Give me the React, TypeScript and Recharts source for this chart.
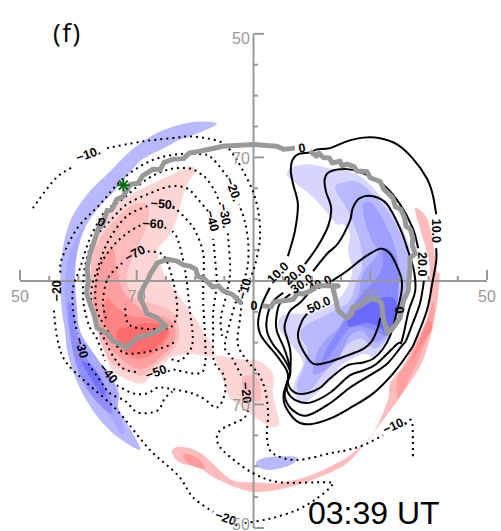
import React from 'react';
import { ScatterChart, Scatter, XAxis, YAxis } from 'recharts';

type P = number[];

// axis ticks, degrees from the pole (colatitude), labelled as latitude
const axisTicks = [-40, -35, -30, -25, -20, -15, -10, -5, 0, 5, 10, 15, 20, 25, 30, 35, 40];
const tickLabels: Record<string, string> = { '-40': '50', '-20': '70', '20': '70', '40': '50' };

// filled potential levels
const blueLeft1: P[] = [[-6.3,25.5],[-9.2,25.8],[-12.6,25.3],[-16,24.2],[-18.9,22.6],[-21.7,20.5],[-24.6,17.7],[-28.5,14],[-31.4,9.7],[-32.8,4.4],[-33.1,0],[-32.8,-4.8],[-32.3,-8.1],[-31.8,-11.8],[-30.1,-16.6],[-27.5,-21],[-24.6,-24.2],[-21.7,-26.3],[-19.4,-27.3],[-20.3,-25.3],[-22,-22.6],[-23.2,-20.5],[-23,-18.2],[-24.1,-16.1],[-26.3,-14],[-28.9,-10.8],[-30.1,-8.1],[-30.2,-4.8],[-30.6,0],[-30.2,4.4],[-28.9,8.5],[-26.6,11.8],[-23.4,15],[-19.4,19.4],[-15.5,21.4],[-12.6,22.9],[-10.9,23.4],[-8,24.5]];
const blueLeft2: P[] = [[-29,8.9],[-31.4,4.8],[-32.3,0],[-32.1,-4.8],[-31.4,-8.9],[-30.6,-12.1],[-28.9,-16.1],[-26.3,-19.4],[-24.1,-22.6],[-22.9,-24.5],[-22,-24.2],[-23.2,-21],[-23.5,-17.7],[-24.6,-15.3],[-27.1,-12.1],[-29.7,-8.1],[-30.4,-3.2],[-30.6,1.6],[-30.1,5.6]];
const blueLeft3: P[] = [[-31.8,-3.7],[-31.4,-8.9],[-30.2,-14],[-28,-18.2],[-24.6,-21.5],[-24.4,-19.4],[-26.3,-15.3],[-28.5,-12.6],[-30.2,-8.9],[-30.9,-4.8]];
const blueLeft4: P[] = [[-29.4,-13.2],[-28,-15.6],[-25.9,-18.5],[-25.4,-18.1],[-26.3,-15.6],[-28.3,-13.4]];
const blueRight1: P[] = [[5.7,17.3],[6.8,18.5],[9.7,18.9],[13.1,18.2],[16.5,17.7],[19.4,16.1],[22.9,12.4],[25.1,9.2],[26.8,5.3],[26.8,2.7],[25.9,-2.1],[24.6,-6.9],[22.5,-10],[20.8,-12.4],[19.1,-11.8],[16.9,-12.6],[14.8,-13.9],[13.1,-16.1],[10.5,-18.5],[8.5,-19.7],[6.8,-18.1],[7.3,-15.8],[8.5,-13.4],[7.3,-11.3],[5.2,-8.9],[4.2,-6.8],[5.7,-5.3],[9.7,-5.3],[13.6,-3.7],[15.7,-1.6],[16.9,1.6],[16.2,4.8],[16.5,7.6],[15.3,9.2],[14.3,9.2],[11.9,11.8],[9.7,14],[6.8,16.1]];
const blueRight2: P[] = [[14,15],[15.7,16],[17.9,16],[20.5,14],[23.4,10.8],[25.6,6.5],[26.8,2.1],[25.4,-3.2],[23.7,-8.1],[21.7,-10.5],[20.3,-10.8],[18.6,-9.4],[16.5,-10],[14.5,-12.1],[12.2,-14.8],[10,-17.4],[8,-18.1],[7.4,-16.9],[8.3,-14.5],[9.3,-11.3],[8,-8.9],[8.8,-7.3],[11.4,-6],[14.3,-4.5],[16.5,-3.2],[17.7,0],[18.6,2.4],[18.2,6.5],[16.2,11.3]];
const blueRight3: P[] = [[18.8,12.4],[20.5,12.4],[23.4,7.6],[24.7,3.7],[24.7,0],[24.6,-4.8],[23.4,-8.1],[21.7,-9.7],[20.3,-9.7],[18.6,-8.1],[16.5,-8.9],[14.8,-12.1],[12.2,-14.5],[10.2,-15],[10.7,-12.1],[12.2,-9.7],[14.8,-7.3],[16.2,-4.8],[17.9,-2.4],[18.8,1.3],[21.3,4.5],[20.3,6.5],[19.1,9.7]];
const blueRight4: P[] = [[22.2,5.2],[23.7,4.8],[24.9,1.9],[24.7,-3.2],[24.2,-6.9],[22.9,-8.9],[20.8,-8.1],[18.2,-7.3],[16.4,-7.7],[14.8,-9.7],[13.1,-12.1],[11.7,-13.2],[12.8,-10.5],[14.8,-7.7],[16.5,-4.8],[19.1,-1.6],[21.3,0.8],[22.2,2.9]];
const blueRight5: P[] = [[16,-5.8],[16.9,-5.2],[19.1,-4],[21.3,-2.9],[23.7,-2.7],[24.6,-4],[24.1,-6.8],[22.9,-8.5],[21.3,-7.3],[19.1,-6.8],[16.5,-7.4]];
const blueBottom: P[] = [[0.4,-29.5],[1.6,-28.7],[4.5,-28.4],[7.4,-28.5],[6.8,-29.5],[5.1,-30.2],[2.8,-30.6],[1.1,-30.3]];
const redLeft1: P[] = [[-10.9,18.5],[-10,17.7],[-11.7,15],[-13.1,10.2],[-14.8,6.9],[-16.5,4.8],[-15.2,0.8],[-14.3,-0.5],[-10.9,-4.8],[-8.6,-8.1],[-6.6,-12.1],[-10.9,-11.8],[-14.3,-12.4],[-14.8,-12.9],[-17.2,-15],[-18.9,-16.6],[-21.5,-16.1],[-24.1,-14.5],[-25.4,-11.8],[-26.6,-8.1],[-28,-3.7],[-28,0.5],[-27.5,4.8],[-25.8,9.7],[-22.9,12.9],[-18.9,15],[-14.8,16.9]];
const redLeft2: P[] = [[-18.2,12.4],[-21.1,12.1],[-23.4,10.2],[-25.8,7.6],[-27.5,4.4],[-28,0],[-27.7,-3.7],[-26.6,-8.5],[-25.8,-10.8],[-24.1,-13.4],[-20.6,-15],[-18.9,-15.3],[-16.5,-13.4],[-14.3,-11.8],[-12.9,-9.7],[-12.9,-6.8],[-14.3,-4.8],[-17.2,-3.7],[-20.3,-2.7],[-21.7,0],[-21.1,2.9],[-19.9,5.3],[-18.2,9.2]];
const redLeft3: P[] = [[-24.1,5.3],[-26.3,3.2],[-27.1,0],[-27.5,-3.7],[-26.3,-8.1],[-24.6,-10.8],[-22.9,-12.4],[-20.6,-14],[-18.2,-14],[-16,-12.4],[-13.8,-10.2],[-13.4,-7.7],[-14.8,-6],[-18.9,-4.8],[-22.3,-1.6],[-23.4,2.1]];
const redLeft4: P[] = [[-25.1,-2.7],[-25.8,-5.6],[-24.6,-8.9],[-22.5,-11.3],[-20.3,-12.6],[-17.7,-12.1],[-15.5,-10.5],[-14.3,-8.4],[-15.2,-7.3],[-17.7,-6.1],[-21.1,-5.6],[-23.2,-4.5]];
const redLeft5: P[] = [[-23.4,-8.1],[-20.6,-7.3],[-17.2,-6.8],[-14.8,-7.7],[-15.2,-9.4],[-17.7,-11.3],[-20.6,-11.8],[-22.9,-10.2]];
const redCentre1: P[] = [[-6.3,-12.1],[-2.8,-12.6],[0.6,-12.9],[2.5,-14],[3.5,-15.6],[3.3,-18.2],[4,-21],[4.4,-23.1],[3.3,-23.7],[1.1,-22.6],[-1.1,-21],[-4,-18.9],[-5.2,-16.1],[-6.3,-13.4]];
const redCentre2: P[] = [[-1.8,-15.6],[-0.1,-15.3],[1.1,-16.6],[1.1,-19.4],[-0.6,-18.9],[-1.8,-17.3]];
const redBand1: P[] = [[27.7,11.8],[29.7,10.2],[30.7,6.5],[31.4,1.6],[31.9,1.1],[31.6,-2.7],[30.7,-7.6],[29,-12.9],[26.5,-16.9],[23.4,-21],[19.9,-25.3],[16,-29.5],[10.9,-31.9],[5.7,-33.5],[0.6,-34.2],[-2.8,-33.5],[-6.9,-31.8],[-9.2,-30.3],[-12.6,-29.4],[-14,-27.7],[-13.1,-26.9],[-10.9,-27.1],[-8.6,-28.2],[-6.3,-30.2],[-3.5,-32.3],[-0.1,-32.6],[4.5,-32.7],[9.7,-31.5],[15.3,-29],[18.2,-26.9],[20.5,-24.7],[23,-19.4],[23.4,-16.6],[25.4,-14],[27.3,-10.8],[29.7,-6],[30.2,-2.1],[30.2,2.1],[29.7,4.8],[28.5,8.5]];
const redBand2: P[] = [[24.7,-18.9],[24.7,-15.6],[26.8,-12.4],[29.7,-6.5],[30.7,-3.4],[31,-5],[30.2,-8.1],[28.2,-12.9],[25.9,-17.3]];
const redBand3: P[] = [[26.8,-13.4],[28.5,-9.7],[29.9,-6.5],[30.6,-7.7],[28.2,-11.3],[27.1,-13.2]];
const redBottomCore: P[] = [[-12.1,-28.2],[-10.9,-28.1],[-9.2,-29],[-8.3,-30.3],[-9.7,-30.2],[-11.4,-29.4]];

// positive contours, split where a label sits on the line
const c10Top: P[] = [[5.9,4],[7.1,8.1],[7.6,12.4],[6.8,15.6],[6.4,17.7],[6.6,19.4],[7.6,20.5],[9.7,20.8],[10.9,21.3],[13.1,21.5],[16,22.6],[18.8,23.2],[21.7,23.1],[24.6,22.1],[27.3,19.8],[29.7,16.6],[30.7,14],[31.3,10.8]];
const c10Low: P[] = [[31.3,5.3],[31.3,3.2],[30.7,0],[29.7,-4.8],[27.7,-9.7],[26.8,-11.3],[23.9,-15],[20.5,-18.2],[16.5,-20.6],[13.1,-22.3],[9.7,-23.2],[7.4,-22.7],[5.4,-20.2],[5.2,-18.1],[5.9,-16.1],[5.7,-14.5],[4,-12.1],[2.3,-10.2],[1.1,-8.5],[0.8,-6.5],[1.5,-3.7],[2.8,-1.1]];
const c20Top: P[] = [[8.8,2.7],[11,5.6],[12.8,8.9],[13.3,11.8],[12.4,14.5],[12.2,16.5],[13.1,17.7],[16,18.1],[18.8,17.4],[22.2,15.6],[25.1,12.4],[27.3,8.5],[28.2,5.3]];
const c20Low: P[] = [[29.2,0],[28.5,-3.7],[27.1,-7.3],[26.1,-9.7],[25.4,-10.5],[22.9,-13.4],[19.9,-15.3],[16.5,-17.3],[13.1,-19.8],[9.2,-21.8],[6.8,-21],[5.4,-18.9],[5.6,-16.9],[6.3,-14.8],[5.1,-12.4],[3.3,-10.2],[2.3,-8.1],[2.3,-6],[3.2,-3.5],[5.1,-1.9]];
const c30: P[] = [[10.2,1.6],[12.6,4.4],[14.5,6.1],[16.5,9.7],[17,11.8],[18.2,13.4],[20.5,13.7],[22.9,12.4],[25.1,8.5],[26.5,4.8],[27.5,1.6],[27.7,-1.6],[26.6,-4.8],[25.4,-9.7],[24.6,-10.2],[21.1,-13.4],[18.8,-14.5],[16.5,-15.3],[13.1,-18.1],[9.7,-19.7],[7.4,-19.4],[5.9,-18.1],[5.7,-16.6],[6.3,-14.5],[5.4,-11.3],[4,-8.1],[3.9,-6],[4.5,-3.7],[6.3,-2.1]];
const c40: P[] = [[13.4,0],[16,1.6],[18.8,3.7],[21.7,5.2],[23.4,4.4],[24.7,2.1],[25.4,0],[25.3,-2.1],[24.4,-5.6],[23.4,-8.9],[22.1,-11.1],[20.5,-12.6],[18.8,-13.2],[16,-13.7],[13.1,-15.8],[11.4,-17.3],[9.2,-18.2],[7.1,-18.1],[5.9,-16.5],[6.3,-14.5],[6.3,-11.3],[5.4,-8.1],[5.4,-6.9],[6.3,-4.8],[8,-3.5],[9.3,-2.1]];
const c50: P[] = [[21.7,-6],[21.3,-7.6],[20.3,-9.7],[18.8,-11],[16,-12.1],[12.6,-13.2],[10.2,-13.4],[8.5,-11.3],[7.6,-8.9],[8.3,-6.5],[9.2,-5.3]];

// negative contours
const d10a: P[] = [[-37.8,11.8],[-34,16.5],[-30.9,18.5]];
const d10b: P[] = [[-25.1,21.5],[-18.9,22.6],[-13.1,23.2],[-10.9,23.4],[-8,23.1],[-5.2,22.3],[-3.5,20.5],[-2,18.2],[-0.1,14.5],[0.9,10.8],[1.1,6.9],[0.3,2.7],[-0.6,0.3]];
const d10c: P[] = [[-2,-3.5],[-2.3,-6],[-2.7,-10.2],[-1.1,-12.9],[0.8,-15],[2,-17.7],[2.5,-21.5],[2.3,-25.3],[3.3,-27.9],[7.4,-29],[13.1,-27.9],[16,-27.4],[18.8,-26.6],[22.2,-25]];
const d10d: P[] = [[25.9,-23.1],[27.1,-22.6],[27.3,-25.8],[27.3,-28.5]];
const d20a: P[] = [[-4.5,16.9],[-6.9,19.7],[-8.6,20.5],[-13.1,20.5],[-17.7,19.4],[-22.3,16.6],[-26.3,12.4],[-30.2,8.5],[-32.8,3.7],[-33.1,1.3]];
const d20b: P[] = [[-34.2,-4.8],[-33.6,-9.4],[-32.3,-12.9],[-29.4,-15.8],[-24.6,-19.8],[-22.3,-22.1],[-17.7,-27.4],[-12.9,-31.5],[-10.4,-35],[-6.9,-37.4]];
const d20c: P[] = [[-1.5,-39.2],[2.8,-38.5],[7.4,-37.1],[10.9,-35.2],[13.4,-33.1],[12.6,-32.6],[4.5,-32.6],[-0.1,-31.1],[-4,-28.5],[-6.1,-26.3],[-5.7,-24.2],[-1.8,-22.3],[-0.9,-21]];
const d20d: P[] = [[-2.1,-15.3],[-3.7,-12.4],[-4.9,-10.8],[-4.2,-7.3],[-2.7,-2.4],[-1.1,1.9],[-0.9,6],[-1.5,9.7],[-2.5,12.4]];
const d30a: P[] = [[-5.7,12.4],[-6.6,14.5],[-8,16.5],[-9.2,17.4],[-10.9,18.2],[-14.3,18.1],[-18.2,16.5],[-22.9,12.9],[-25.4,11.3],[-28,6.9],[-29.7,2.1],[-30.9,-1.1],[-30.9,-4.8],[-30.2,-8.5]];
const d30b: P[] = [[-28.3,-13.4],[-26.3,-16.1],[-24.6,-18.2],[-22,-19.4],[-19.8,-21.3],[-16.5,-21],[-15.2,-19],[-13.9,-17.9]];
const d30c: P[] = [[-4.4,7.7],[-4,1.6],[-4.7,-2.4],[-5.6,-6.1],[-5.4,-8.9]];
const d40a: P[] = [[-7.8,11.3],[-9.5,13.2],[-11.4,15],[-14.3,15.3],[-17.7,14.2],[-21.7,12.4],[-24.6,9.7],[-27.5,6.5],[-28.9,2.1],[-29.2,-2.1],[-28.9,-4.8],[-28,-7.6],[-26.8,-9.4],[-25.4,-12.9]];
const d40b: P[] = [[-23.4,-16.9],[-20.6,-18.2],[-18.2,-18.2],[-16.5,-17.3],[-14.6,-17.4],[-10.9,-18.1],[-8.6,-19],[-6.3,-20.5],[-4.9,-18.2],[-5.1,-15.3],[-6.8,-12.9],[-6.9,-8.1],[-6.9,-4.8],[-6.3,-0.5],[-6.6,3.7],[-6.9,6.8]];
const d50a: P[] = [[-13.8,12.1],[-11.7,10.2],[-10,8.1],[-8.6,4.4],[-8.6,0],[-8.6,-3.7],[-8.3,-9.2],[-8.3,-13.4],[-9.5,-15],[-14.3,-14.2]];
const d50b: P[] = [[-18.2,12.1],[-21.7,10.5],[-24.6,6.9],[-26.3,3.2],[-27.7,-1.1],[-27.7,-4.4],[-26.6,-7.6],[-25.4,-9.7],[-24.1,-12.1],[-22.3,-14.2],[-19.9,-14.8]];
const d60a: P[] = [[-13.9,8.1],[-12.9,6.5],[-11.7,1.6],[-10.9,-4.8],[-10.4,-9.2],[-10.9,-11.3],[-12.6,-12.9],[-14.3,-12.6]];
const d60b: P[] = [[-19.4,9],[-21.7,7.7],[-24.1,5.6],[-26.3,2.4],[-27.1,-1.6],[-26.8,-4.8],[-25.8,-6.8],[-24.1,-9.4],[-22.3,-11.6],[-18.9,-11.6],[-15.5,-10.8],[-13.1,-9.7]];
const d70a: P[] = [[-18.1,4.8],[-15.5,4.2],[-14,0.8],[-13.1,-3.7],[-13.4,-6.5],[-15,-7.7],[-19.9,-7.6],[-21.7,-6.5],[-22,-3.7]];
const d70b: P[] = [[-22.5,2.9],[-24.9,0.5],[-25.8,-3.2],[-25.3,-6.1]];

// zero line (thick grey, jagged in the original)
const zeroA: P[] = [[-2,-3.7],[-3.6,-2.2],[-5.2,-1.6],[-6,-0.8],[-7,-1],[-8.6,0.5],[-9.5,0.7],[-9.9,1.9],[-10.9,2.4],[-12,2.6],[-13.1,3.2],[-14.8,3.5],[-16.5,2.9],[-17.7,1.1],[-18.1,0.2],[-18.9,-1.1],[-19.4,-2.7],[-18.8,-4],[-18.2,-5.3],[-16.5,-6],[-15,-7.3],[-17.2,-8.5],[-19.9,-9.2],[-21.7,-10.8],[-24.1,-9.7],[-25.1,-8.5],[-26.8,-7.6],[-27.2,-5.8],[-28,-3.7],[-28.6,-2],[-28.3,0],[-28.5,2],[-28,4.4],[-27.6,5.5],[-26.6,8.5],[-25.9,9],[-25.1,11.3],[-24.3,11.5],[-23.4,13.2],[-22.4,13.6],[-21.1,15.6],[-19.8,15.8],[-19,17],[-17.2,18.1],[-16,18],[-15.3,19.2],[-13.8,19.7],[-12,19.8],[-11,20.7],[-9.2,21],[-5.2,21.8],[-0.1,22.1],[4,21.8],[5.2,21.3],[7.1,21.5]];
const zeroB: P[] = [[9.7,21],[10.8,20.2],[11.2,20.7],[11.9,20],[13,19.9],[13.5,19.1],[14.8,19.4],[15.2,18.6],[16,18.9],[17.2,18.5],[17.7,17.8],[19.4,17.7],[20,16.7],[21.7,16.1],[22.3,14.9],[23.9,13.4],[24.3,12],[25.2,11.6],[25.9,10.2],[26.1,8.9],[26.9,8.3],[27.3,6.9],[27.2,5.8],[27.7,4.4],[26.8,3.7],[26.8,2.1],[26.5,-1.6],[25.7,-3.2],[25.1,-6],[23.9,-7.6],[23,-8.4],[22.2,-6],[22,-3.7],[21.2,-3],[19.4,-2.9],[18.2,-4],[17,-4.2],[16.8,-5.4],[16,-6],[14.5,-4.8],[14,-2.7],[13.6,-1.1],[14.5,-0.8],[10.9,-0.8],[10,-1.5],[8.5,-2.1],[7.5,-2],[6.8,-3],[5.1,-3.2],[3.5,-3.4],[3,-4.2],[1.5,-4]];

const starPoint: P[] = [[-22.3,15.5]];

// x, y, text, rotation
const underLabels: (number | string)[][] = [[11.4,-0.5,'40.0',-25]];
const contourLabels: (number | string)[][] = [
  [-28.3,20.5,'−10.',-20],[-3.5,14.8,'−20.',70],[-4.9,10.5,'−30.',80],[-7.1,9.7,'−40',75],
  [-15.5,12.4,'−50.',5],[-16.9,9.2,'−60.',3],[-20.3,4.4,'−70',-30],[-33.6,-1.6,'−20',-90],
  [-29.5,-10.8,'−30',75],[-24.9,-15,'−40',50],[-16.4,-14.7,'−50.',-20],[-1.5,-1.3,'−10',-75],
  [-1.3,-18.1,'−20',85],[24.2,-23.4,'−10.',-25],[-4.5,-38.5,'−20.',20],
  [-26.1,9.5,'0',30],[8.3,21.5,'0',-10],[0.1,-4,'0',0],[24.9,-4.7,'0',90],
  [4.2,1.3,'10.0',-45],[7.1,1,'20.0',-40],[8.3,-0.5,'30.0',-35],[11.2,-3.9,'50.0',-25],
  [31.3,8.1,'10.0',90],[28.9,2.7,'20.0',90],
];
const panelTag: (number | string)[][] = [[-31.9,40.3,'(f)']];
const timeTag: (number | string)[][] = [[20.6,-37.6,'03:39 UT']];

const fillLayers: [P[], string][] = [
  [blueLeft1, '#b9b9ff'], [blueLeft2, '#a9a9ff'], [blueLeft3, '#8f8fff'], [blueLeft4, '#7272ff'],
  [blueRight1, '#d6d6ff'], [blueRight2, '#b9b9ff'], [blueRight3, '#a0a0ff'], [blueRight4, '#8a8aff'], [blueRight5, '#6a6aff'],
  [blueBottom, '#b9b9ff'],
  [redLeft1, '#ffd6d6'], [redLeft2, '#ffbcbc'], [redLeft3, '#ffa0a0'], [redLeft4, '#ff8585'], [redLeft5, '#ff6c6c'],
  [redCentre1, '#ffd6d6'], [redCentre2, '#ffbcbc'],
  [redBand1, '#ffbcbc'], [redBand2, '#ffa0a0'], [redBand3, '#ff8a8a'], [redBottomCore, '#ff9a9a'],
];
const solidLines = [c10Top, c10Low, c20Top, c20Low, c30, c40, c50];
const dottedLines = [d10a, d10b, d10c, d10d, d20a, d20b, d20c, d20d, d30a, d30b, d30c, d40a, d40b, d50a, d50b, d60a, d60b, d70a, d70b];
const zeroLines = [zeroA, zeroB];

const GREY = '#999999';
const toPoints = (pts: P[]) => pts.map(([x, y]) => ({ x, y }));
const toLabels = (rows: (number | string)[][]) => rows.map(([x, y, text, angle]) => ({ x, y, text, angle: angle || 0 }));
const noDot = () => <g />;

// Catmull-Rom curve, Recharts takes a curve factory as line type
const smoothCurve = (closed: boolean) => (ctx: any) => {
  let pts: number[][] = [];
  return {
    areaStart() {},
    areaEnd() {},
    lineStart() {
      pts = [];
    },
    point(x: number, y: number) {
      pts.push([x, y]);
    },
    lineEnd() {
      const n = pts.length;
      if (!n) return;
      const at = (i: number) => (closed ? pts[(i + n) % n] : pts[Math.max(0, Math.min(n - 1, i))]);
      ctx.moveTo(pts[0][0], pts[0][1]);
      const segs = closed ? n : n - 1;
      for (let i = 0; i < segs; i++) {
        const [a, b, c, d] = [at(i - 1), at(i), at(i + 1), at(i + 2)];
        ctx.bezierCurveTo(b[0] + (c[0] - a[0]) / 6, b[1] + (c[1] - a[1]) / 6, c[0] - (d[0] - b[0]) / 6, c[1] - (d[1] - b[1]) / 6, c[0], c[1]);
      }
      if (closed) ctx.closePath();
    },
  };
};
const closedSmooth = smoothCurve(true);
const openSmooth = smoothCurve(false);

const drawLabel = (fontSize: number, family: string, weight: string | number, spacing = 0) => (props: any) => {
  const { cx, cy, payload } = props;
  return (
    <text
      x={cx}
      y={cy}
      fontSize={fontSize}
      fontFamily={family}
      fontWeight={weight}
      letterSpacing={spacing}
      fill="#000"
      textAnchor="middle"
      dominantBaseline="central"
      transform={`rotate(${payload.angle} ${cx} ${cy})`}
    >
      {payload.text}
    </text>
  );
};

const drawStar = (props: any) => {
  const { cx, cy } = props;
  const r = 6.5;
  return (
    <g stroke="#0b6b14" strokeWidth={2}>
      {[0, 45, 90, 135].map((a) => {
        const dx = r * Math.cos((a * Math.PI) / 180);
        const dy = r * Math.sin((a * Math.PI) / 180);
        return <line key={a} x1={cx - dx} y1={cy - dy} x2={cx + dx} y2={cy + dy} />;
      })}
    </g>
  );
};

const XTick = (props: any) => {
  const { x, y, payload } = props;
  const label = tickLabels[String(payload.value)];
  const axisY = y - 248;
  return (
    <g>
      <line x1={x} x2={x} y1={axisY} y2={axisY - (label ? 10 : 4)} stroke={GREY} strokeWidth={2} />
      {label && (
        <text x={x} y={axisY + 16} fontSize={16} fontFamily="Liberation Sans" fill={GREY} textAnchor="middle" dominantBaseline="central">
          {label}
        </text>
      )}
    </g>
  );
};

const YTick = (props: any) => {
  const { x, y, payload } = props;
  const label = tickLabels[String(payload.value)];
  const axisX = x + 234;
  const nudge = payload.value === 40 ? 5 : payload.value === -40 ? -4 : 1;
  return (
    <g>
      <line x1={axisX} x2={axisX + (label ? 10 : 4)} y1={y} y2={y} stroke={GREY} strokeWidth={2} />
      {label && (
        <text x={axisX - 13} y={y + nudge} fontSize={16} fontFamily="Liberation Sans" fill={GREY} textAnchor="middle" dominantBaseline="central">
          {label}
        </text>
      )}
    </g>
  );
};

export default function App() {
  return (
    <div style={{ position: 'absolute', left: 0, top: 0, width: 501, height: 531, background: '#fff' }}>
      <ScatterChart width={501} height={531} margin={{ top: 32, right: 14, bottom: 2, left: 19 }}>
        <XAxis
          type="number"
          dataKey="x"
          domain={[-40, 40]}
          ticks={axisTicks}
          interval={0}
          height={1}
          axisLine={false}
          tickLine={false}
          tickSize={0}
          tickMargin={0}
          tick={XTick}
        />
        <YAxis
          type="number"
          dataKey="y"
          domain={[-40, 40]}
          ticks={axisTicks}
          interval={0}
          width={1}
          axisLine={false}
          tickLine={false}
          tickSize={0}
          tickMargin={0}
          tick={YTick}
        />

        {fillLayers.map(([pts, color], i) => (
          <Scatter
            key={`fill-${i}`}
            data={toPoints(pts)}
            line={{ fill: color, stroke: 'none' }}
            lineType="joint"
            lineJointType={closedSmooth as any}
            shape={noDot}
            isAnimationActive={false}
          />
        ))}

        {/* cross hair */}
        <Scatter data={[{ x: -40, y: 0 }, { x: 40, y: 0 }]} line={{ stroke: GREY, strokeWidth: 2 }} shape={noDot} isAnimationActive={false} />
        <Scatter data={[{ x: 0, y: 40 }, { x: 0, y: -40 }]} line={{ stroke: GREY, strokeWidth: 2 }} shape={noDot} isAnimationActive={false} />

        {solidLines.map((pts, i) => (
          <Scatter
            key={`solid-${i}`}
            data={toPoints(pts)}
            line={{ stroke: '#000', strokeWidth: 2 }}
            lineType="joint"
            lineJointType={openSmooth as any}
            shape={noDot}
            isAnimationActive={false}
          />
        ))}
        {dottedLines.map((pts, i) => (
          <Scatter
            key={`dot-${i}`}
            data={toPoints(pts)}
            line={{ stroke: '#000', strokeWidth: 2, strokeDasharray: '2 4' }}
            lineType="joint"
            lineJointType={openSmooth as any}
            shape={noDot}
            isAnimationActive={false}
          />
        ))}

        <Scatter data={toLabels(underLabels)} shape={drawLabel(12.5, 'Liberation Sans', 'bold')} isAnimationActive={false} />

        {zeroLines.map((pts, i) => (
          <Scatter
            key={`zero-${i}`}
            data={toPoints(pts)}
            line={{ stroke: GREY, strokeWidth: 5, strokeLinejoin: 'round' }}
            lineType="joint"
            shape={noDot}
            isAnimationActive={false}
          />
        ))}

        <Scatter data={toPoints(starPoint)} shape={drawStar} isAnimationActive={false} />
        <Scatter data={toLabels(contourLabels)} shape={drawLabel(12.5, 'Liberation Sans', 'bold')} isAnimationActive={false} />
        <Scatter data={toLabels(panelTag)} shape={drawLabel(26, 'Open Sans', 'normal', 1.5)} isAnimationActive={false} />
        <Scatter data={toLabels(timeTag)} shape={drawLabel(32, 'Liberation Sans', 'normal')} isAnimationActive={false} />
      </ScatterChart>
    </div>
  );
}
